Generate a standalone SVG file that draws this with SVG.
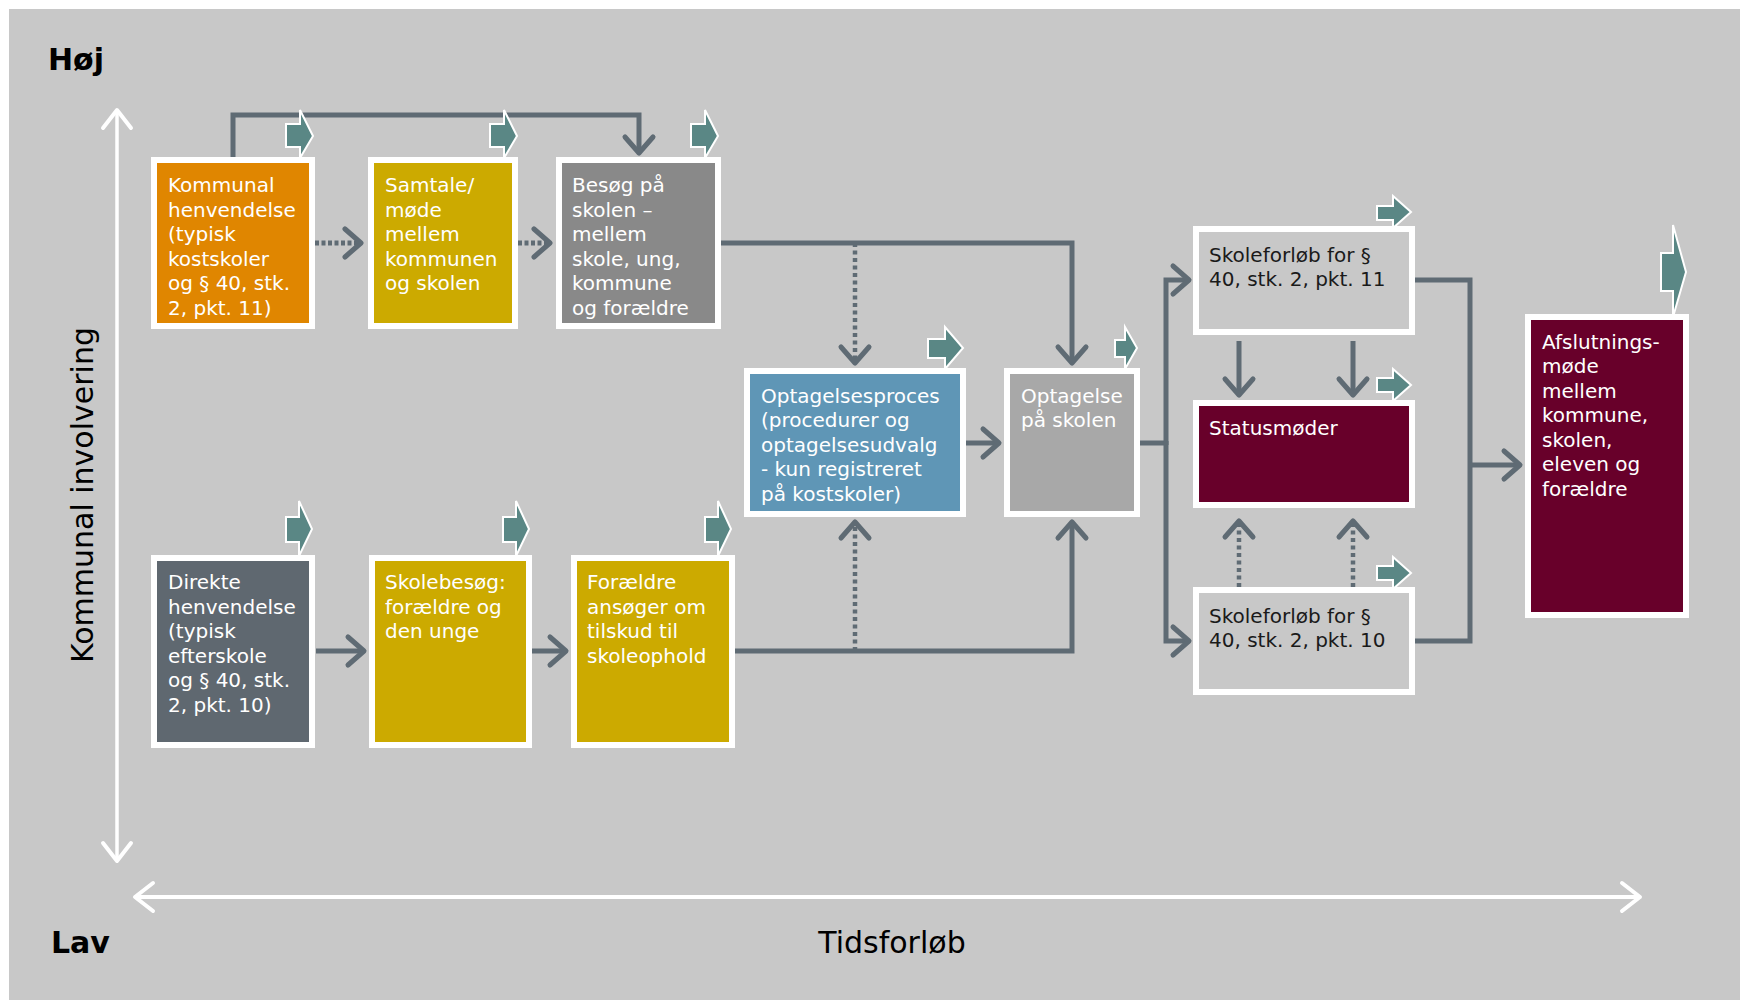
<svg xmlns="http://www.w3.org/2000/svg" width="1740" height="1000" viewBox="0 0 1740 1000">
<style>
.box{stroke:#ffffff;stroke-width:6}
.t{font-family:"DejaVu Sans",Verdana,sans-serif;font-size:20px;fill:#ffffff}
.tb{font-family:"DejaVu Sans",Verdana,sans-serif;font-size:20px;fill:#1a1a1a}
.con{fill:none;stroke:#5f6b74;stroke-width:5}
.dot{fill:none;stroke:#5f6b74;stroke-width:5;stroke-dasharray:4 2.5}
.dotv{fill:none;stroke:#5f6b74;stroke-width:4.5;stroke-dasharray:4 3.5}
.pa{fill:#5a8785;stroke:#ffffff;stroke-width:2;stroke-linejoin:miter}
.ax{fill:none;stroke:#ffffff}
.lbl{font-family:"DejaVu Sans",Verdana,sans-serif;font-size:30px;fill:#000000}
</style>
<defs>
<marker id="ah" viewBox="-22 -18 26 36" refX="0" refY="0" markerWidth="26" markerHeight="36" markerUnits="userSpaceOnUse" orient="auto">
<path d="M-16,-14 L0,0 L-16,14" fill="none" stroke="#5f6b74" stroke-width="5" stroke-linecap="round" stroke-linejoin="round"/>
</marker>
<marker id="axh" viewBox="-22 -18 26 36" refX="0" refY="0" markerWidth="26" markerHeight="36" markerUnits="userSpaceOnUse" orient="auto-start-reverse">
<path d="M-18,-14 L0,0 L-18,14" fill="none" stroke="#ffffff" stroke-width="4" stroke-linecap="round" stroke-linejoin="round"/>
</marker>
</defs>
<rect x="0" y="0" width="1740" height="1000" fill="#ffffff"/>
<rect x="9" y="9" width="1731" height="991" fill="#c8c8c8"/>

<g id="axes">
<path class="ax" d="M117,110 V861" stroke-width="3.5" marker-start="url(#axh)" marker-end="url(#axh)"/>
<path class="ax" d="M135,897 H1640" stroke-width="4" marker-start="url(#axh)" marker-end="url(#axh)"/>
<text class="lbl" x="48" y="70" font-weight="bold">Høj</text>
<text class="lbl" x="51" y="953" font-weight="bold">Lav</text>
<text class="lbl" x="892" y="953" text-anchor="middle">Tidsforløb</text>
<text class="lbl" transform="translate(93,495) rotate(-90)" text-anchor="middle">Kommunal involvering</text>
</g>

<g id="connectors">
<path class="con" d="M233,157 V115 H639 V153" marker-end="url(#ah)"/>
<path class="dot" d="M315,243 H361" marker-end="url(#ah)"/>
<path class="dot" d="M518,243 H550" marker-end="url(#ah)"/>
<path class="con" d="M721,243 H1072 V363" marker-end="url(#ah)"/>
<path class="dotv" d="M855,243 V363" marker-end="url(#ah)"/>
<path class="con" d="M966,443 H999" marker-end="url(#ah)"/>
<path class="con" d="M735,651 H1072 V522" marker-end="url(#ah)"/>
<path class="dotv" d="M855,651 V522" marker-end="url(#ah)"/>
<path class="con" d="M316,651 H364" marker-end="url(#ah)"/>
<path class="con" d="M532,651 H566" marker-end="url(#ah)"/>
<path class="con" d="M1140,443 H1166"/>
<path class="con" d="M1166,445 V280 H1189" marker-end="url(#ah)"/>
<path class="con" d="M1166,441 V641 H1189" marker-end="url(#ah)"/>
<path class="con" d="M1239,341 V395" marker-end="url(#ah)"/>
<path class="con" d="M1353,341 V395" marker-end="url(#ah)"/>
<path class="dotv" d="M1239,587 V521" marker-end="url(#ah)"/>
<path class="dotv" d="M1353,587 V521" marker-end="url(#ah)"/>
<path class="con" d="M1415,280 H1470 V641 H1415"/>
<path class="con" d="M1470,465 H1520" marker-end="url(#ah)"/>
</g>

<g id="process-arrows">
<polygon class="pa" points="286,124 300,124 300,110 313,136 300,158 300,147 286,147"/>
<polygon class="pa" points="490,124 504,124 504,110 517,136 504,158 504,147 490,147"/>
<polygon class="pa" points="691,124 705,124 705,110 718,136 705,158 705,147 691,147"/>
<polygon class="pa" points="286,517 299,517 299,501 312,529 299,556 299,542 286,542"/>
<polygon class="pa" points="503,517 516,517 516,501 529,529 516,556 516,542 503,542"/>
<polygon class="pa" points="705,517 718,517 718,501 731,529 718,556 718,542 705,542"/>
<polygon class="pa" points="928,339 945,339 945,327 963,348 945,369 945,358 928,358"/>
<polygon class="pa" points="1115,340 1125,340 1125,327 1137,348 1125,369 1125,357 1115,357"/>
<polygon class="pa" points="1377,206 1393,206 1393,196 1411,212 1393,228 1393,220 1377,220"/>
<polygon class="pa" points="1377,378 1393,378 1393,369 1411,385 1393,401 1393,392 1377,392"/>
<polygon class="pa" points="1377,566 1393,566 1393,557 1411,573 1393,589 1393,580 1377,580"/>
<polygon class="pa" points="1661,253 1673,253 1673,225 1686,272 1673,317 1673,291 1661,291"/>
</g>

<g id="n-kommunal">
<rect class="box" x="154" y="160" width="158" height="166" fill="#e08600"/>
<text class="t" x="168"><tspan x="168" y="192">Kommunal</tspan><tspan x="168" y="216.5">henvendelse</tspan><tspan x="168" y="241">(typisk</tspan><tspan x="168" y="265.5">kostskoler</tspan><tspan x="168" y="290">og § 40, stk.</tspan><tspan x="168" y="314.5">2, pkt. 11)</tspan></text>
</g>
<g id="n-samtale">
<rect class="box" x="371" y="160" width="144" height="166" fill="#ccaa00"/>
<text class="t"><tspan x="385" y="192">Samtale/</tspan><tspan x="385" y="216.5">møde</tspan><tspan x="385" y="241">mellem</tspan><tspan x="385" y="265.5">kommunen</tspan><tspan x="385" y="290">og skolen</tspan></text>
</g>
<g id="n-besoeg">
<rect class="box" x="559" y="160" width="159" height="166" fill="#898989"/>
<text class="t"><tspan x="572" y="192">Besøg på</tspan><tspan x="572" y="216.5">skolen –</tspan><tspan x="572" y="241">mellem</tspan><tspan x="572" y="265.5">skole, ung,</tspan><tspan x="572" y="290">kommune</tspan><tspan x="572" y="314.5">og forældre</tspan></text>
</g>
<g id="n-optagelsesproces">
<rect class="box" x="747" y="371" width="216" height="143" fill="#5f96b6"/>
<text class="t"><tspan x="761" y="402.5">Optagelsesproces</tspan><tspan x="761" y="427">(procedurer og</tspan><tspan x="761" y="451.5">optagelsesudvalg</tspan><tspan x="761" y="476">- kun registreret</tspan><tspan x="761" y="500.5">på kostskoler)</tspan></text>
</g>
<g id="n-optagelse">
<rect class="box" x="1007" y="371" width="130" height="143" fill="#a8a8a8"/>
<text class="t"><tspan x="1021" y="402.5">Optagelse</tspan><tspan x="1021" y="427">på skolen</tspan></text>
</g>
<g id="n-skoleforloeb11">
<rect class="box" x="1196" y="229" width="216" height="103" fill="#c8c8c8"/>
<text class="tb"><tspan x="1209" y="261.5">Skoleforløb for §</tspan><tspan x="1209" y="286">40, stk. 2, pkt. 11</tspan></text>
</g>
<g id="n-statusmoeder">
<rect class="box" x="1196" y="403" width="216" height="102" fill="#68002a"/>
<text class="t" x="1209" y="435">Statusmøder</text>
</g>
<g id="n-skoleforloeb10">
<rect class="box" x="1196" y="590" width="216" height="102" fill="#c8c8c8"/>
<text class="tb"><tspan x="1209" y="622.5">Skoleforløb for §</tspan><tspan x="1209" y="647">40, stk. 2, pkt. 10</tspan></text>
</g>
<g id="n-afslutning">
<rect class="box" x="1528" y="317" width="158" height="298" fill="#68002a"/>
<text class="t"><tspan x="1542" y="348.5">Afslutnings-</tspan><tspan x="1542" y="373">møde</tspan><tspan x="1542" y="397.5">mellem</tspan><tspan x="1542" y="422">kommune,</tspan><tspan x="1542" y="446.5">skolen,</tspan><tspan x="1542" y="471">eleven og</tspan><tspan x="1542" y="495.5">forældre</tspan></text>
</g>
<g id="n-direkte">
<rect class="box" x="154" y="558" width="158" height="187" fill="#5f6870"/>
<text class="t"><tspan x="168" y="589">Direkte</tspan><tspan x="168" y="613.5">henvendelse</tspan><tspan x="168" y="638">(typisk</tspan><tspan x="168" y="662.5">efterskole</tspan><tspan x="168" y="687">og § 40, stk.</tspan><tspan x="168" y="711.5">2, pkt. 10)</tspan></text>
</g>
<g id="n-skolebesoeg">
<rect class="box" x="372" y="558" width="157" height="187" fill="#ccaa00"/>
<text class="t"><tspan x="385" y="589">Skolebesøg:</tspan><tspan x="385" y="613.5">forældre og</tspan><tspan x="385" y="638">den unge</tspan></text>
</g>
<g id="n-foraeldre">
<rect class="box" x="574" y="558" width="158" height="187" fill="#ccaa00"/>
<text class="t"><tspan x="587" y="589">Forældre</tspan><tspan x="587" y="613.5">ansøger om</tspan><tspan x="587" y="638">tilskud til</tspan><tspan x="587" y="662.5">skoleophold</tspan></text>
</g>
</svg>
